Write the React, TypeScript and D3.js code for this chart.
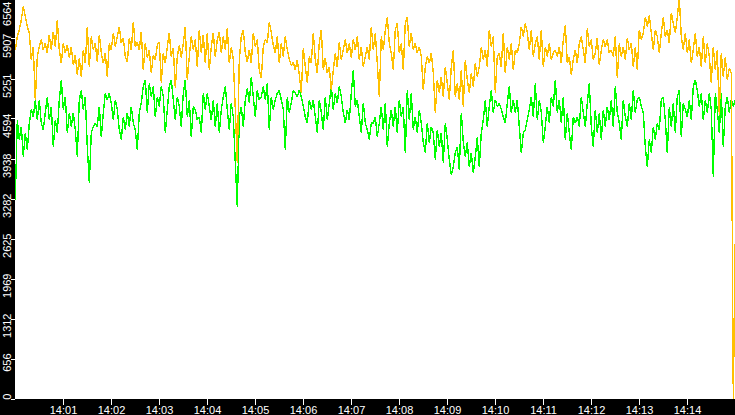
import React, { useEffect } from 'react';
import * as d3 from 'd3';

// Orange series (one sample every 2.5 s, 14:00:00 – 14:15:00)
const orangeValues: number[] = [
  5720,5940,6050,6210,6440,6270,6100,6000,5560,5770,
  4900,5610,5770,5890,5720,5830,5670,5970,5720,6020,
  5770,6210,5720,5500,5830,5670,5800,5590,5770,5470,
  5640,5310,5590,5280,5720,5500,6100,5440,5940,5720,
  5830,5520,5970,5670,5500,5670,5280,5830,5720,6000,
  5770,5940,6100,5830,5920,5610,5520,5920,5720,6180,
  5770,5850,5720,6020,5390,5830,5590,5720,5340,5640,
  5560,5800,5850,5180,5670,5500,5770,6000,5610,5750,
  5100,5610,5800,5590,5830,6100,5230,5610,5940,5720,
  5890,5440,6050,5670,5970,5500,6000,5390,5770,6000,
  5610,5890,6020,5670,5940,5720,6080,5500,5770,5560,
  4740,3870,5560,5940,6050,5670,5520,5720,5500,6000,
  5770,5890,5390,5260,5770,5890,5830,6180,6000,5800,
  5670,5940,5500,5830,5610,5940,5720,5560,5470,5520,
  5390,5560,5310,5020,5750,5440,5180,5610,5500,6000,
  5560,5340,5830,6050,5390,5590,5340,5440,5060,5390,
  5670,5440,5850,5560,5720,5890,5670,5830,5590,5890,
  5720,5940,5560,5770,5440,5610,5770,5560,6100,5720,
  6000,5500,4950,5940,5720,6050,6260,5830,5670,5390,
  6050,6160,5670,5830,5390,6160,6260,5770,6000,5720,
  5830,5670,5770,5610,5060,5440,5610,5500,5670,5340,
  4690,5230,5020,5280,4950,5440,5170,4900,5440,5720,
  4950,5170,4900,5390,4790,5560,5230,5020,5340,5120,
  5500,5280,5440,5770,5560,5720,5440,6050,5770,5940,
  5020,5610,5670,5440,6000,5340,5770,5560,5830,5390,
  5720,5670,5830,6100,5940,6160,6000,5720,6050,5610,
  5830,5940,5560,6050,5440,5770,5610,5830,5560,5670,
  5720,5610,5770,5500,5890,6130,5500,5610,5310,5560,
  5720,5500,5830,5940,5720,5500,6080,5770,5890,5560,
  5670,5920,5470,5720,5890,5770,5890,5670,5720,5610,
  5940,5260,5830,5610,5770,5560,5920,5720,5830,5440,
  5770,5390,6050,5890,6000,6260,6100,6290,6000,5720,
  6050,5940,5670,6000,6260,5940,6050,5830,6330,6160,
  6000,6260,6564,5940,5720,6000,5670,5890,5500,5720,
  6000,5610,5770,5440,5940,5500,5830,5610,5180,5770,
  5390,5720,4650,5670,5280,5610,5230,5420,5340,0,
  2650,
];

// Green series
const greenValues: number[] = [
  3260,4570,4250,4460,3970,4360,4080,4520,4740,4620,
  4900,4570,4900,4520,4410,4690,4950,4570,4790,4130,
  4570,4360,4900,5230,4740,4950,4360,4690,4460,4690,
  4410,3970,4900,5060,4740,4950,4130,3540,4360,4460,
  4520,4460,4790,4290,4690,5010,4900,5010,4850,4570,
  4900,4740,4410,4250,4620,4410,4690,4460,4790,4520,
  4410,4080,4690,4850,5120,5230,4690,5170,4950,5120,
  4620,4950,4790,5120,4950,4360,4740,5120,5230,4900,
  4570,4950,4790,4460,5010,5230,4620,4900,4290,4790,
  4740,4570,4620,4360,5010,4740,5010,4790,4570,4900,
  4460,4850,4360,4740,4950,5120,4740,4410,4850,4620,
  3870,3150,4620,4790,4460,4900,5090,4850,5280,4950,
  4620,5060,4900,4950,5120,4900,5170,4410,4950,4740,
  4900,5010,5060,4900,4740,4080,4950,4690,4850,5060,
  5010,4950,5060,4950,4790,4620,4520,4900,4740,4900,
  4620,4360,4900,4690,4410,4950,4570,4850,5120,4740,
  5010,4850,5120,4950,4690,4520,4740,4570,5010,5390,
  4790,4900,4620,4360,4850,4520,4410,4250,4520,4520,
  4620,4290,4520,4790,4410,4850,4130,4520,4740,4460,
  4790,4360,4900,4620,4790,4030,5060,4570,5010,4410,
  4620,4360,4740,4520,4200,4030,4520,4200,4460,4360,
  3920,4410,4130,4360,3870,4520,4250,3920,3670,3800,
  4030,4130,3750,4690,4200,3970,4200,3800,4030,3700,
  3970,4290,3800,4360,4570,4900,4460,4790,5060,4690,
  4900,4790,4850,4740,4620,4520,4850,5120,4690,4900,
  4690,4900,4460,4030,4360,4410,4570,4740,4950,4620,
  5170,4570,4900,4690,4200,4460,4790,4520,4950,4790,
  5230,4690,4900,4520,4950,4250,4690,4360,4080,4620,
  4520,4620,4460,4950,4690,4460,4850,5170,4460,4130,
  4740,4360,4690,4250,4740,4460,4790,4570,4900,4460,
  5120,4690,4520,4250,4900,4620,4460,4850,4570,5060,
  4690,4900,4950,4790,4690,4130,3800,4250,4030,4460,
  4250,4520,4410,4900,4950,4570,4030,4790,4460,4850,
  4360,4950,5060,4290,4850,4740,4620,4900,4570,5120,
  5230,5060,4790,5010,4570,4900,4690,5010,4740,3640,
  5010,4740,4360,5010,4130,4790,4950,4690,4900,4790,
  4900,
];

const yMaxValue = 6564;
const yTickSteps = 10;
const xTickMinutes = [1,2,3,4,5,6,7,8,9,10,11,12,13,14];
const sampleMs = 2500;
const startTime = new Date(2020, 0, 1, 14, 0, 0);
const endTime = new Date(2020, 0, 1, 14, 15, 0);

const W = 735;
const H = 415;
const plotLeft = 15;
const plotBottom = 399;

export default function App() {
  useEffect(() => {
    document.body.style.margin = '0';
    document.body.style.overflow = 'hidden';
  }, []);

  const x = d3.scaleTime().domain([startTime, endTime]).range([plotLeft + 0.3, W + 0.3]);
  const y = d3.scaleLinear().domain([0, yMaxValue]).range([398.5, -1.5]);

  const timeAt = (i: number) => new Date(startTime.getTime() + i * sampleMs);
  const line = d3
    .line<number>()
    .x((_, i) => x(timeAt(i)))
    .y((d) => y(d));

  const yTicks = d3.range(0, yTickSteps + 1).map((i) => (i * yMaxValue) / yTickSteps);
  const xTicks = xTickMinutes.map((m) => new Date(2020, 0, 1, 14, m, 0));
  const fmt = d3.timeFormat('%H:%M');
  const font = '"Liberation Sans", Arial, sans-serif';

  return (
    <svg width={W} height={H} style={{ display: 'block' }}>
      <rect x={0} y={0} width={W} height={H} fill="#000" />
      <rect x={plotLeft} y={0} width={W - plotLeft} height={plotBottom} fill="#fff" />
      <path d={line(greenValues) || ''} fill="none" stroke="#00ff00" strokeWidth={1.4} strokeLinejoin="bevel" shapeRendering="crispEdges" />
      <path d={line(orangeValues) || ''} fill="none" stroke="#ffc000" strokeWidth={1.4} strokeLinejoin="bevel" shapeRendering="crispEdges" />
      {yTicks.map((v, i) => {
        const ty = Math.round(y(v)) + 0.5;
        const ly = Math.max(y(v) - 5, 1.5);
        return (
          <g key={'y' + i}>
            <line x1={11} x2={15} y1={ty} y2={ty} stroke="#fff" strokeWidth={1} shapeRendering="crispEdges" />
            <text
              transform={`translate(10.5,${ly}) rotate(-90)`}
              textAnchor="end"
              fill="#fff"
              fontFamily={font}
              fontSize={11}
            >
              {Math.floor(v)}
            </text>
          </g>
        );
      })}
      {xTicks.map((t, i) => {
        const tx = Math.round(x(t)) + 0.5;
        return (
          <g key={'x' + i}>
            <line x1={tx} x2={tx} y1={399} y2={405} stroke="#fff" strokeWidth={1} shapeRendering="crispEdges" />
            <text x={tx} y={413.5} textAnchor="middle" fill="#fff" fontFamily={font} fontSize={11}>
              {fmt(t)}
            </text>
          </g>
        );
      })}
    </svg>
  );
}
